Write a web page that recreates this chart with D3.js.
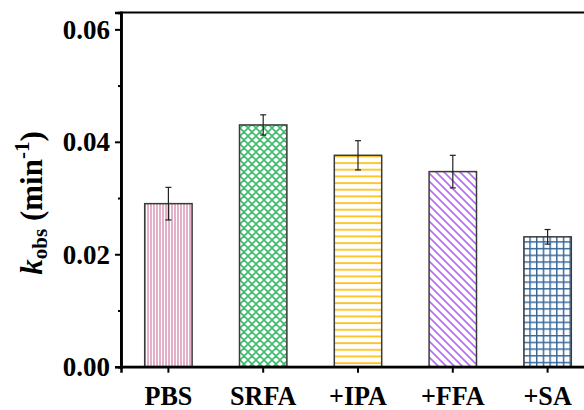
<!DOCTYPE html>
<html><head><meta charset="utf-8">
<script src="https://cdn.jsdelivr.net/npm/d3@7"></script>
<style>body{margin:0;background:#fff;} svg{display:block;}</style>
</head><body>
<svg id="chart" width="584" height="410"></svg>
<script>
const categories = ["PBS", "SRFA", "+IPA", "+FFA", "+SA"];
const values = [0.0290, 0.0430, 0.0376, 0.0347, 0.0231];
const errors = [0.0029, 0.0018, 0.0026, 0.0029, 0.0013];
const majorTicks = [0.00, 0.02, 0.04, 0.06];
const minorTicks = [0.01, 0.03, 0.05];

const svg = d3.select("#chart");
const mLeft = 121, mRight = 595, mTop = 12.5, mBottom = 366.7;
const x = d3.scaleBand().domain(categories).range([mLeft, mRight]).paddingInner(0.5).paddingOuter(0.25);
const y = d3.scaleLinear().domain([0, 0.063]).range([mBottom, mTop]);
const serif = "'Liberation Serif','Times New Roman',serif";

const defs = svg.append("defs");
let p = defs.append("pattern").attr("id","p0").attr("patternUnits","userSpaceOnUse").attr("width",3).attr("height",3);
p.append("rect").attr("width",3).attr("height",3).attr("fill","#fff");
p.append("line").attr("x1",1).attr("x2",1).attr("y1",0).attr("y2",3).attr("stroke","#d27aa4").attr("stroke-width",1.2);
p = defs.append("pattern").attr("id","p1").attr("patternUnits","userSpaceOnUse").attr("width",8).attr("height",8);
p.append("rect").attr("width",8).attr("height",8).attr("fill","#fff");
p.append("path").attr("d","M0,0L8,8M-4,4L4,12M4,-4L12,4M8,0L0,8M-4,4L4,-4M4,12L12,4").attr("stroke","#3dbd6c").attr("stroke-width",1.6);
p = defs.append("pattern").attr("id","p2").attr("patternUnits","userSpaceOnUse").attr("width",6.67).attr("height",6.67);
p.append("rect").attr("width",6.67).attr("height",6.67).attr("fill","#fff");
p.append("line").attr("x1",0).attr("x2",6.67).attr("y1",3).attr("y2",3).attr("stroke","#fdc21c").attr("stroke-width",1.8);
p = defs.append("pattern").attr("id","p3").attr("patternUnits","userSpaceOnUse").attr("width",8).attr("height",8);
p.append("rect").attr("width",8).attr("height",8).attr("fill","#fff");
p.append("path").attr("d","M0,0L8,8M-4,4L4,12M4,-4L12,4").attr("stroke","#b56cf2").attr("stroke-width",1.6);
p = defs.append("pattern").attr("id","p4").attr("patternUnits","userSpaceOnUse").attr("width",6.7).attr("height",6.7);
p.append("rect").attr("width",6.7).attr("height",6.7).attr("fill","#fff");
p.append("path").attr("d","M0,0.7H6.7M0.7,0V6.7").attr("stroke","#33669c").attr("stroke-width",1.5);

const data = categories.map((c,i)=>({c, v: values[i], e: errors[i], i}));

svg.selectAll("rect.bar").data(data).join("rect").attr("class","bar")
  .attr("x", d=>x(d.c)).attr("width", x.bandwidth())
  .attr("y", d=>y(d.v)).attr("height", d=>y(0)-y(d.v))
  .attr("fill", d=>`url(#p${d.i})`).attr("stroke","#3a3a3a").attr("stroke-width",1.5);

const cx = d => x(d.c)+x.bandwidth()/2;
const eb = svg.selectAll("g.err").data(data).join("g").attr("class","err")
  .attr("stroke","#222").attr("stroke-width",1.2);
eb.append("line").attr("x1",cx).attr("x2",cx).attr("y1",d=>y(d.v+d.e)).attr("y2",d=>y(d.v-d.e));
eb.append("line").attr("x1",d=>cx(d)-3).attr("x2",d=>cx(d)+3).attr("y1",d=>y(d.v+d.e)).attr("y2",d=>y(d.v+d.e));
eb.append("line").attr("x1",d=>cx(d)-3).attr("x2",d=>cx(d)+3).attr("y1",d=>y(d.v-d.e)).attr("y2",d=>y(d.v-d.e));

svg.append("rect").attr("x",mLeft).attr("y",mTop).attr("width",mRight-mLeft).attr("height",mBottom-mTop)
  .attr("fill","none").attr("stroke","#000").attr("stroke-width",2);

const yAxis = svg.append("g").attr("transform",`translate(${mLeft},0)`)
  .call(d3.axisLeft(y).tickValues(majorTicks).tickFormat(d3.format(".2f")).tickSize(6).tickPadding(5));
const yMinor = svg.append("g").attr("transform",`translate(${mLeft},0)`)
  .call(d3.axisLeft(y).tickValues(minorTicks).tickFormat("").tickSize(3));
const xAxis = svg.append("g").attr("transform",`translate(0,${mBottom})`)
  .call(d3.axisBottom(x).tickSize(6));
[yAxis,yMinor,xAxis].forEach(g=>{
  g.select(".domain").attr("stroke","#000").attr("stroke-width",2.5);
  g.selectAll(".tick line").attr("stroke","#000").attr("stroke-width",2);
  g.selectAll("text").attr("font-family",serif).attr("font-weight","bold").attr("fill","#000");
});
yAxis.selectAll("text").attr("font-size",27).attr("dy","0.34em");
xAxis.selectAll("text").attr("font-size",27.5).attr("dy",null).attr("y",38.5)
  .each(function(){ const w=this.getComputedTextLength(); d3.select(this).attr("textLength",w*0.95).attr("lengthAdjust","spacingAndGlyphs"); });

const t = svg.append("text").attr("transform","translate(42,203) rotate(-90)")
  .attr("text-anchor","middle").attr("font-family",serif)
  .attr("font-weight","bold").attr("font-size",31).attr("fill","#000");
t.append("tspan").attr("font-style","italic").text("k");
t.append("tspan").attr("font-size",21).attr("dy",5).text("obs");
t.append("tspan").attr("dy",-5).text(" (min");
t.append("tspan").attr("font-size",21).attr("dy",-13.5).text("-1");
t.append("tspan").attr("dy",13.5).text(")");
</script>
</body></html>
